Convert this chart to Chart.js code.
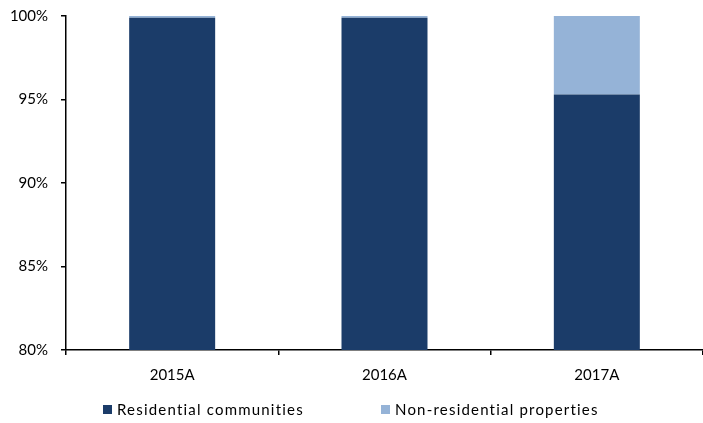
<!DOCTYPE html>
<html>
<head>
<meta charset="utf-8">
<script src="https://cdn.jsdelivr.net/npm/chart.js@4"></script>
<style>
  html, body { margin: 0; padding: 0; background: #fff; }
  #wrap { width: 703px; height: 423px; position: relative; }
</style>
</head>
<body>
<div id="wrap"><canvas id="c" width="703" height="423"></canvas></div>
<script>
// Share of portfolio by property type
const years = ['2015A', '2016A', '2017A'];
const residential = [99.9, 99.9, 95.3];
const nonResidential = [0.1, 0.1, 4.7];
const seriesNames = ['Residential communities', 'Non-residential properties'];
const seriesColors = ['#1b3c69', '#95b3d7'];

const FONT = "'Lato', 'Open Sans', sans-serif";

// Legend drawn along the bottom with fixed item spacing
const bottomLegend = {
  id: 'bottomLegend',
  afterDraw(chart) {
    const ctx = chart.ctx;
    const items = [{ x: 103 }, { x: 381 }];
    ctx.save();
    ctx.font = '15px ' + FONT;
    ctx.letterSpacing = '1.2px';
    ctx.textBaseline = 'middle';
    chart.data.datasets.forEach((ds, i) => {
      const x = items[i].x, y = 410;
      ctx.fillStyle = ds.backgroundColor;
      ctx.fillRect(x, y - 5, 9, 9);
      ctx.fillStyle = '#000';
      ctx.fillText(ds.label, x + 14, y);
    });
    ctx.restore();
  }
};

new Chart(document.getElementById('c'), {
  type: 'bar',
  data: {
    labels: years,
    datasets: [
      { label: seriesNames[0], data: residential, backgroundColor: seriesColors[0] },
      { label: seriesNames[1], data: nonResidential, backgroundColor: seriesColors[1] }
    ]
  },
  options: {
    responsive: false,
    animation: false,
    layout: { padding: { left: 0, right: 0, top: 16, bottom: 0 } },
    datasets: { bar: { categoryPercentage: 1, barPercentage: 0.405, borderWidth: 0 } },
    plugins: { legend: { display: false }, tooltip: { enabled: false } },
    scales: {
      x: {
        stacked: true,
        offset: true,
        grid: { offset: true, drawOnChartArea: false, drawTicks: true, tickLength: 5, color: '#000', lineWidth: 1.5 },
        border: { color: '#000', width: 1.5 },
        ticks: { color: '#000', font: { family: FONT, size: 15 }, padding: 11 },
        afterFit(s) { s.height = 73; }
      },
      y: {
        stacked: true,
        min: 80,
        max: 100,
        grid: { drawOnChartArea: false, drawTicks: true, tickLength: 5, color: '#000', lineWidth: 1.5 },
        border: { color: '#000', width: 1.5 },
        ticks: {
          stepSize: 5,
          color: '#000',
          font: { family: FONT, size: 15 },
          padding: 13,
          callback: v => v + '%'
        },
        afterFit(s) { s.width = 66; s.paddingTop = 0; s.paddingBottom = 0; }
      }
    }
  },
  plugins: [bottomLegend]
});
</script>
</body>
</html>
